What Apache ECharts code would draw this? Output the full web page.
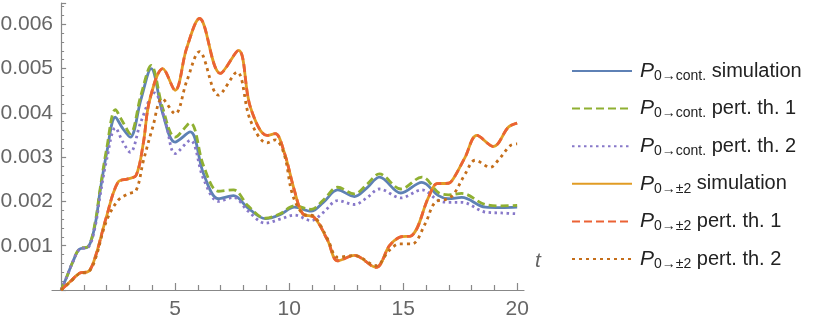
<!DOCTYPE html>
<html>
<head>
<meta charset="utf-8">
<script src="https://cdn.jsdelivr.net/npm/echarts@6/dist/echarts.min.js"></script>
<style>
  html, body { margin: 0; padding: 0; background: #fff; }
  #chart { width: 830px; height: 328px; }
</style>
</head>
<body>
<div id="chart"></div>
<script>
// values are in units of 1e-3
const SCALE = 1e-3

const contSimT = [0, 0.25, 0.5, 0.8, 1.2, 1.5, 1.7, 2.0, 2.38, 2.7, 3.03, 3.5, 3.95, 4.46, 5.0, 5.66, 6.25, 6.9, 7.56, 8.2, 8.96, 9.6, 10.23, 10.96, 11.5, 12.13, 12.86, 13.4, 13.96, 14.9, 15.82, 16.55, 16.99, 17.57, 18.6, 19.3, 20]
const contSimV = [0, 0.3, 0.62, 0.92, 0.98, 1.5, 2.2, 3.1, 3.9, 3.65, 3.45, 4.3, 5.0, 3.98, 3.34, 3.57, 2.62, 2.06, 2.13, 1.85, 1.61, 1.7, 1.87, 1.78, 1.98, 2.26, 2.11, 2.3, 2.55, 2.19, 2.43, 2.13, 2.06, 2.09, 1.87, 1.86, 1.87]

const contPt1T = contSimT
const contPt1V = [0, 0.3, 0.62, 0.93, 0.99, 1.55, 2.25, 3.2, 4.07, 3.8, 3.53, 4.4, 5.07, 4.1, 3.45, 3.77, 2.8, 2.23, 2.26, 1.9, 1.62, 1.72, 1.9, 1.82, 2.03, 2.32, 2.17, 2.38, 2.62, 2.28, 2.55, 2.2, 2.15, 2.18, 1.93, 1.9, 1.91]

const contPt2T = [0, 0.25, 0.5, 0.8, 1.2, 1.5, 1.7, 2.0, 2.38, 2.7, 3.03, 3.5, 4.1, 4.6, 5.0, 5.66, 6.25, 6.9, 7.56, 8.2, 8.96, 9.6, 10.23, 10.96, 11.5, 12.13, 12.86, 13.4, 13.96, 14.9, 15.82, 16.55, 16.99, 17.57, 18.6, 19.3, 20]
const contPt2V = [0, 0.3, 0.62, 0.92, 0.97, 1.45, 2.1, 2.95, 3.66, 3.35, 3.11, 3.8, 4.45, 3.75, 3.08, 3.38, 2.5, 2.0, 2.09, 1.78, 1.51, 1.6, 1.69, 1.57, 1.75, 2.02, 1.93, 2.08, 2.28, 2.08, 2.26, 2.02, 1.98, 1.98, 1.76, 1.74, 1.72]

const pm2SimT = [0, 0.44, 0.8, 1.2, 1.5, 1.98, 2.49, 2.93, 3.29, 3.6, 3.88, 4.46, 5.0, 5.5, 6.07, 6.98, 7.78, 8.3, 9.03, 9.39, 9.79, 10.23, 10.6, 11.1, 11.69, 12.13, 12.86, 13.81, 14.4, 14.84, 15.38, 16.11, 16.48, 16.99, 17.2, 17.72, 18.23, 18.96, 19.62, 20]
const pm2SimV = [0, 0.21, 0.38, 0.42, 0.75, 1.64, 2.43, 2.51, 2.59, 3.3, 4.28, 5.0, 4.51, 5.45, 6.13, 4.89, 5.41, 4.13, 3.49, 3.53, 3.1, 2.25, 1.72, 1.64, 1.12, 0.66, 0.78, 0.51, 1.0, 1.19, 1.23, 2.09, 2.4, 2.41, 2.51, 3.0, 3.49, 3.24, 3.68, 3.77]

const pm2Pt1T = pm2SimT
const pm2Pt1V = pm2SimV

const pm2Pt2T = [0, 0.44, 0.8, 1.2, 1.5, 1.98, 2.49, 2.93, 3.29, 3.6, 4.02, 4.43, 5.0, 5.5, 6.07, 6.9, 7.71, 8.3, 9.03, 9.39, 9.79, 10.14, 10.6, 11.1, 11.69, 12.13, 12.86, 13.81, 14.4, 14.84, 15.38, 15.96, 16.4, 16.9, 17.2, 17.72, 18.16, 18.82, 19.2, 19.7, 20]
const pm2Pt2V = [0, 0.2, 0.37, 0.41, 0.7, 1.55, 2.02, 2.17, 2.25, 2.9, 3.68, 4.32, 3.98, 4.7, 5.38, 4.4, 4.92, 3.83, 3.32, 3.39, 3.05, 2.17, 1.72, 1.66, 1.15, 0.74, 0.78, 0.55, 0.9, 1.04, 1.04, 1.49, 1.98, 2.05, 2.15, 2.62, 2.93, 2.77, 2.95, 3.26, 3.3]

const seriesNames = [
  'cont-sim', 'cont-pt1', 'cont-pt2', 'pm2-sim', 'pm2-pt1', 'pm2-pt2'
]
const legendLabels = {
  'cont-sim': '{p|P}{s|0→cont.}{t| simulation}',
  'cont-pt1': '{p|P}{s|0→cont.}{t| pert. th. 1}',
  'cont-pt2': '{p|P}{s|0→cont.}{t| pert. th. 2}',
  'pm2-sim': '{p|P}{s|0→±2}{t| simulation}',
  'pm2-pt1': '{p|P}{s|0→±2}{t| pert. th. 1}',
  'pm2-pt2': '{p|P}{s|0→±2}{t| pert. th. 2}'
}

const xMajor = [5, 10, 15, 20]
const xMinor = [1, 2, 3, 4, 6, 7, 8, 9, 11, 12, 13, 14, 16, 17, 18, 19]
const yLabels = [0.001, 0.002, 0.003, 0.004, 0.005, 0.006]

function pairs(ts, vs) {
  return ts.map((t, i) => [t, vs[i] * SCALE])
}

function lineSeries(name, ts, vs, color, type, width) {
  return {
    name,
    type: 'line',
    data: pairs(ts, vs),
    smooth: 0.35,
    symbol: 'none',
    xAxisIndex: 0,
    lineStyle: { color, width, type },
    itemStyle: { color }
  }
}

const axisGray = '#888'
const labelGray = '#666'
const font = 'Liberation Sans, Arial, sans-serif'

const chart = echarts.init(document.getElementById('chart'), null, { renderer: 'canvas' })

chart.setOption({
  animation: false,
  grid: { left: 52, right: 306, top: 3, bottom: 38, containLabel: false, outerBoundsMode: 'none' },
  legend: {
    orient: 'vertical',
    left: 566,
    top: 53,
    itemWidth: 60,
    itemHeight: 14,
    itemGap: 12.6,
    itemStyle: { opacity: 0 },
    data: seriesNames,
    formatter: (name) => legendLabels[name],
    textStyle: {
      color: '#222',
      fontFamily: font,
      fontSize: 20,
      rich: {
        p: { fontStyle: 'italic', fontSize: 21, fontFamily: font, color: '#222', lineHeight: 24, padding: [0, 0, 0, 3] },
        s: { fontSize: 14, fontFamily: font, color: '#222', lineHeight: 24, verticalAlign: 'bottom', padding: [11, 0, 0, 0] },
        t: { fontSize: 20, fontFamily: font, color: '#222', lineHeight: 24 }
      }
    }
  },
  xAxis: [
    {
      type: 'value',
      min: -0.4,
      max: 20.3,
      position: 'bottom',
      name: 't',
      nameLocation: 'end',
      nameGap: 11,
      nameTextStyle: {
        fontStyle: 'italic', fontSize: 21, fontFamily: font, color: labelGray,
        verticalAlign: 'bottom', padding: [0, 0, 18, 0]
      },
      axisLine: { onZero: false, lineStyle: { color: axisGray, width: 1.2 } },
      axisTick: { inside: true, length: 7, customValues: xMajor, lineStyle: { color: axisGray, width: 1.2 } },
      axisLabel: { customValues: xMajor, color: labelGray, fontSize: 21, fontFamily: font, margin: 9 },
      splitLine: { show: false }
    },
    {
      type: 'value',
      min: -0.4,
      max: 20.3,
      position: 'bottom',
      axisLine: { show: false, onZero: false },
      axisTick: { inside: true, length: 5, customValues: xMinor, lineStyle: { color: axisGray, width: 1.2 } },
      axisLabel: { show: false },
      splitLine: { show: false }
    }
  ],
  yAxis: {
    type: 'value',
    min: 0,
    max: 0.00648,
    interval: 0.001,
    axisLine: { show: true, onZero: true, lineStyle: { color: axisGray, width: 1.2 } },
    axisTick: { show: true, inside: true, length: 5, lineStyle: { color: axisGray, width: 1.2 } },
    minorTick: { show: true, splitNumber: 5, length: 3, lineStyle: { color: axisGray, width: 1 } },
    axisLabel: {
      customValues: yLabels,
      color: labelGray,
      fontSize: 21,
      fontFamily: font,
      margin: -1,
      formatter: (v) => v.toFixed(3)
    },
    splitLine: { show: false }
  },
  series: [
    lineSeries('cont-sim', contSimT, contSimV, '#5E81B5', 'solid', 2.8),
    lineSeries('cont-pt1', contPt1T, contPt1V, '#8FB032', [8, 4], 2.8),
    lineSeries('cont-pt2', contPt2T, contPt2V, '#8778C9', [2.5, 3.5], 2.8),
    lineSeries('pm2-sim', pm2SimT, pm2SimV, '#E19C24', 'solid', 2.8),
    lineSeries('pm2-pt1', pm2Pt1T, pm2Pt1V, '#EB6235', [8, 4], 2.8),
    lineSeries('pm2-pt2', pm2Pt2T, pm2Pt2V, '#C56E1A', [3, 4], 2.8)
  ]
})
</script>
</body>
</html>
